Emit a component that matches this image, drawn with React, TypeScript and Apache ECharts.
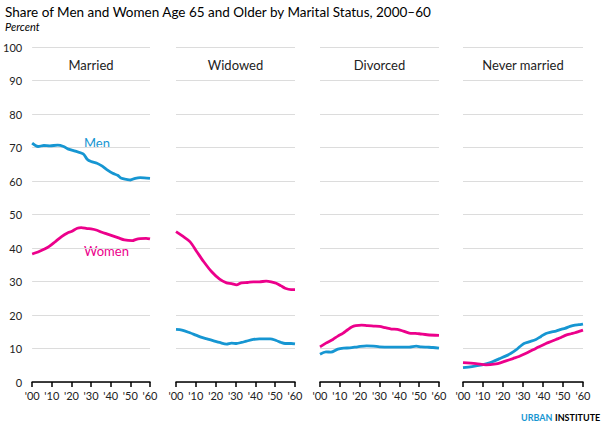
import React, { useEffect, useRef } from "react";
import * as echarts from "echarts";

const panels = ["Married", "Widowed", "Divorced", "Never married"];
const xTicks = ["'00", "'10", "'20", "'30", "'40", "'50", "'60"];
const yTicks = [0, 10, 20, 30, 40, 50, 60, 70, 80, 90, 100];

const marriedMen: [number, number][] = [
  [2000, 71.3], [2003, 70.3], [2006, 70.6], [2009, 70.5], [2013, 70.7], [2016, 70.3], [2018.5, 69.5],
  [2022, 68.9], [2026, 68.1], [2028, 66.5], [2030, 65.8], [2033, 65.3], [2035.5, 64.5], [2038, 63.4],
  [2041, 62.3], [2043.5, 61.7], [2045.5, 60.8], [2048, 60.5], [2050, 60.3], [2052.5, 60.8], [2055, 61.0],
  [2060, 60.8],
];
const marriedWomen: [number, number][] = [
  [2000, 38.2], [2003, 38.8], [2006, 39.6], [2008.5, 40.4], [2012, 42.0], [2015, 43.4], [2018, 44.5],
  [2020, 44.9], [2023, 45.9], [2025, 46.1], [2028, 45.8], [2030, 45.7], [2033, 45.3], [2035.5, 44.7],
  [2038, 44.2], [2041, 43.6], [2044, 43.0], [2047, 42.4], [2051, 42.2], [2053, 42.6], [2055, 42.8],
  [2058, 42.9], [2060, 42.7],
];
const widowedWomen: [number, number][] = [
  [2000, 44.9], [2003, 43.7], [2007, 41.9], [2010.5, 38.9], [2014, 35.9], [2018, 32.9], [2022, 30.7],
  [2025.5, 29.6], [2028, 29.4], [2030.5, 29.0], [2033, 29.6], [2036, 29.7], [2039, 29.9], [2042, 29.9],
  [2045.5, 30.1], [2048, 29.9], [2050.5, 29.5], [2053, 28.7], [2055, 28.0], [2058, 27.6], [2060, 27.6],
];
const widowedMen: [number, number][] = [
  [2000, 15.7], [2003, 15.5], [2007, 14.7], [2010, 14.0], [2013, 13.3], [2016, 12.8], [2019, 12.3],
  [2022, 11.8], [2025.5, 11.3], [2028, 11.6], [2030.5, 11.5], [2033, 11.8], [2035.5, 12.2], [2039, 12.7],
  [2042, 12.9], [2045, 12.9], [2047.5, 12.9], [2050.5, 12.4], [2053, 11.8], [2055, 11.5], [2058, 11.5],
  [2060, 11.4],
];
const divorcedWomen: [number, number][] = [
  [2000, 10.5], [2003, 11.6], [2006.5, 12.7], [2009, 13.7], [2011.5, 14.5], [2014, 15.6], [2016, 16.4],
  [2018, 16.8], [2021, 17.0], [2024, 16.8], [2027, 16.7], [2030, 16.6], [2033, 16.2], [2036, 15.8],
  [2039, 15.7], [2042, 15.2], [2045, 14.6], [2048, 14.5], [2050, 14.4], [2054, 14.1], [2060, 13.9],
];
const divorcedMen: [number, number][] = [
  [2000, 8.3], [2003, 9.0], [2005.5, 8.9], [2009, 9.8], [2012, 10.1], [2015, 10.2], [2019, 10.5],
  [2023.5, 10.8], [2027, 10.7], [2030, 10.5], [2035, 10.4], [2040, 10.4], [2045, 10.4], [2048.5, 10.7],
  [2051, 10.5], [2054, 10.4], [2057, 10.3], [2060, 10.1],
];
const neverMen: [number, number][] = [
  [2000, 4.3], [2004.5, 4.6], [2009.5, 5.1], [2012, 5.5], [2015, 6.1], [2018, 6.9], [2021.5, 7.8],
  [2024, 8.6], [2026.5, 9.6], [2028.5, 10.6], [2030.5, 11.5], [2033, 12.0], [2036.5, 12.7], [2039, 13.6],
  [2041.5, 14.5], [2044, 14.9], [2046.5, 15.2], [2049, 15.7], [2051, 16.0], [2053.5, 16.6], [2056, 17.0],
  [2058, 17.1], [2060, 17.3],
];
const neverWomen: [number, number][] = [
  [2000, 5.8], [2006.5, 5.5], [2011.5, 5.1], [2016.5, 5.4], [2019, 5.8], [2021.5, 6.3], [2025, 7.0],
  [2028, 7.6], [2031, 8.4], [2035, 9.6], [2038, 10.5], [2041.5, 11.5], [2044, 12.1], [2046.5, 12.7],
  [2049, 13.3], [2051.5, 14.0], [2054, 14.4], [2056, 14.7], [2058, 15.1], [2060, 15.5],
];

const menSeries = [marriedMen, widowedMen, divorcedMen, neverMen];
const womenSeries = [marriedWomen, widowedWomen, divorcedWomen, neverWomen];

const BLUE = "#1696d2";
const PINK = "#ec008b";
const FONT = "Lato, 'Open Sans', sans-serif";

const gridPos = [
  { left: 32, width: 118 },
  { left: 176, width: 119 },
  { left: 320, width: 119 },
  { left: 463, width: 120 },
];

export default function App() {
  const ref = useRef<HTMLDivElement>(null);
  useEffect(() => {
    if (!ref.current) return;
    const chart = echarts.init(ref.current, null, { renderer: "svg" });
    const grids = gridPos.map((g) => ({ left: g.left, width: g.width, top: 47, height: 335 }));
    const xAxes = gridPos.map((_, i) => ({
      type: "value",
      gridIndex: i,
      min: 2000,
      max: 2060,
      interval: 10,
      axisLine: { show: true, lineStyle: { color: "#000", width: 1.5 } },
      axisTick: { show: true, length: 5, lineStyle: { color: "#000", width: 1.5 } },
      splitLine: { show: false },
      axisLabel: {
        color: "#222",
        fontFamily: FONT,
        fontSize: 11,
        margin: 8,
        formatter: (v: number) => xTicks[Math.round((v - 2000) / 10)] ?? "",
      },
    }));
    const yAxes = gridPos.map((_, i) => ({
      type: "value",
      gridIndex: i,
      min: yTicks[0],
      max: yTicks[yTicks.length - 1],
      interval: 10,
      axisLine: { show: false },
      axisTick: { show: false },
      splitLine: { show: true, lineStyle: { color: "#dcdcdc", width: 1 } },
      axisLabel: {
        show: i === 0,
        color: "#222",
        fontFamily: FONT,
        fontSize: 11,
        margin: 10,
      },
    }));
    const series: any[] = [];
    for (let i = 0; i < 4; i++) {
      series.push({
        type: "line",
        name: "Men",
        xAxisIndex: i,
        yAxisIndex: i,
        data: menSeries[i],
        showSymbol: false,
        smooth: 0.3,
        lineStyle: { color: BLUE, width: 2.8 },
        itemStyle: { color: BLUE },
        z: 3,
      });
      series.push({
        type: "line",
        name: "Women",
        xAxisIndex: i,
        yAxisIndex: i,
        data: womenSeries[i],
        showSymbol: false,
        smooth: 0.3,
        lineStyle: { color: PINK, width: 2.8 },
        itemStyle: { color: PINK },
        z: 4,
      });
    }
    const panelTitles = panels.map((p, i) => ({
      type: "text",
      x: gridPos[i].left + gridPos[i].width / 2,
      y: 58,
      style: {
        text: p,
        fill: "#222",
        font: `13px ${FONT}`,
        textAlign: "center",
        textVerticalAlign: "top",
      },
    }));
    chart.setOption({
      animation: false,
      grid: grids,
      xAxis: xAxes,
      yAxis: yAxes,
      series,
      graphic: [
        {
          type: "text",
          left: 5,
          top: 5,
          style: {
            text: "Share of Men and Women Age 65 and Older by Marital Status, 2000–60",
            fill: "#000",
            font: `13.5px ${FONT}`,
          },
        },
        {
          type: "text",
          left: 5,
          top: 21,
          style: { text: "Percent", fill: "#000", font: `italic 11px ${FONT}` },
        },
        ...panelTitles,
        {
          type: "text",
          x: 84,
          y: 136,
          style: { text: "Men", fill: BLUE, font: `13px ${FONT}`, textVerticalAlign: "top" },
        },
        {
          type: "text",
          x: 84,
          y: 244,
          style: { text: "Women", fill: PINK, font: `13px ${FONT}`, textVerticalAlign: "top" },
        },
        {
          type: "text",
          x: 521,
          y: 413,
          style: { text: "URBAN", fill: BLUE, font: `bold 9px ${FONT}`, textVerticalAlign: "top" },
        },
        {
          type: "text",
          x: 555,
          y: 413,
          style: { text: "INSTITUTE", fill: "#000", font: `bold 9px ${FONT}`, textVerticalAlign: "top" },
        },
      ],
    });
    return () => chart.dispose();
  }, []);
  return <div ref={ref} style={{ width: 613, height: 427, position: "absolute", left: 0, top: 0 }} />;
}
